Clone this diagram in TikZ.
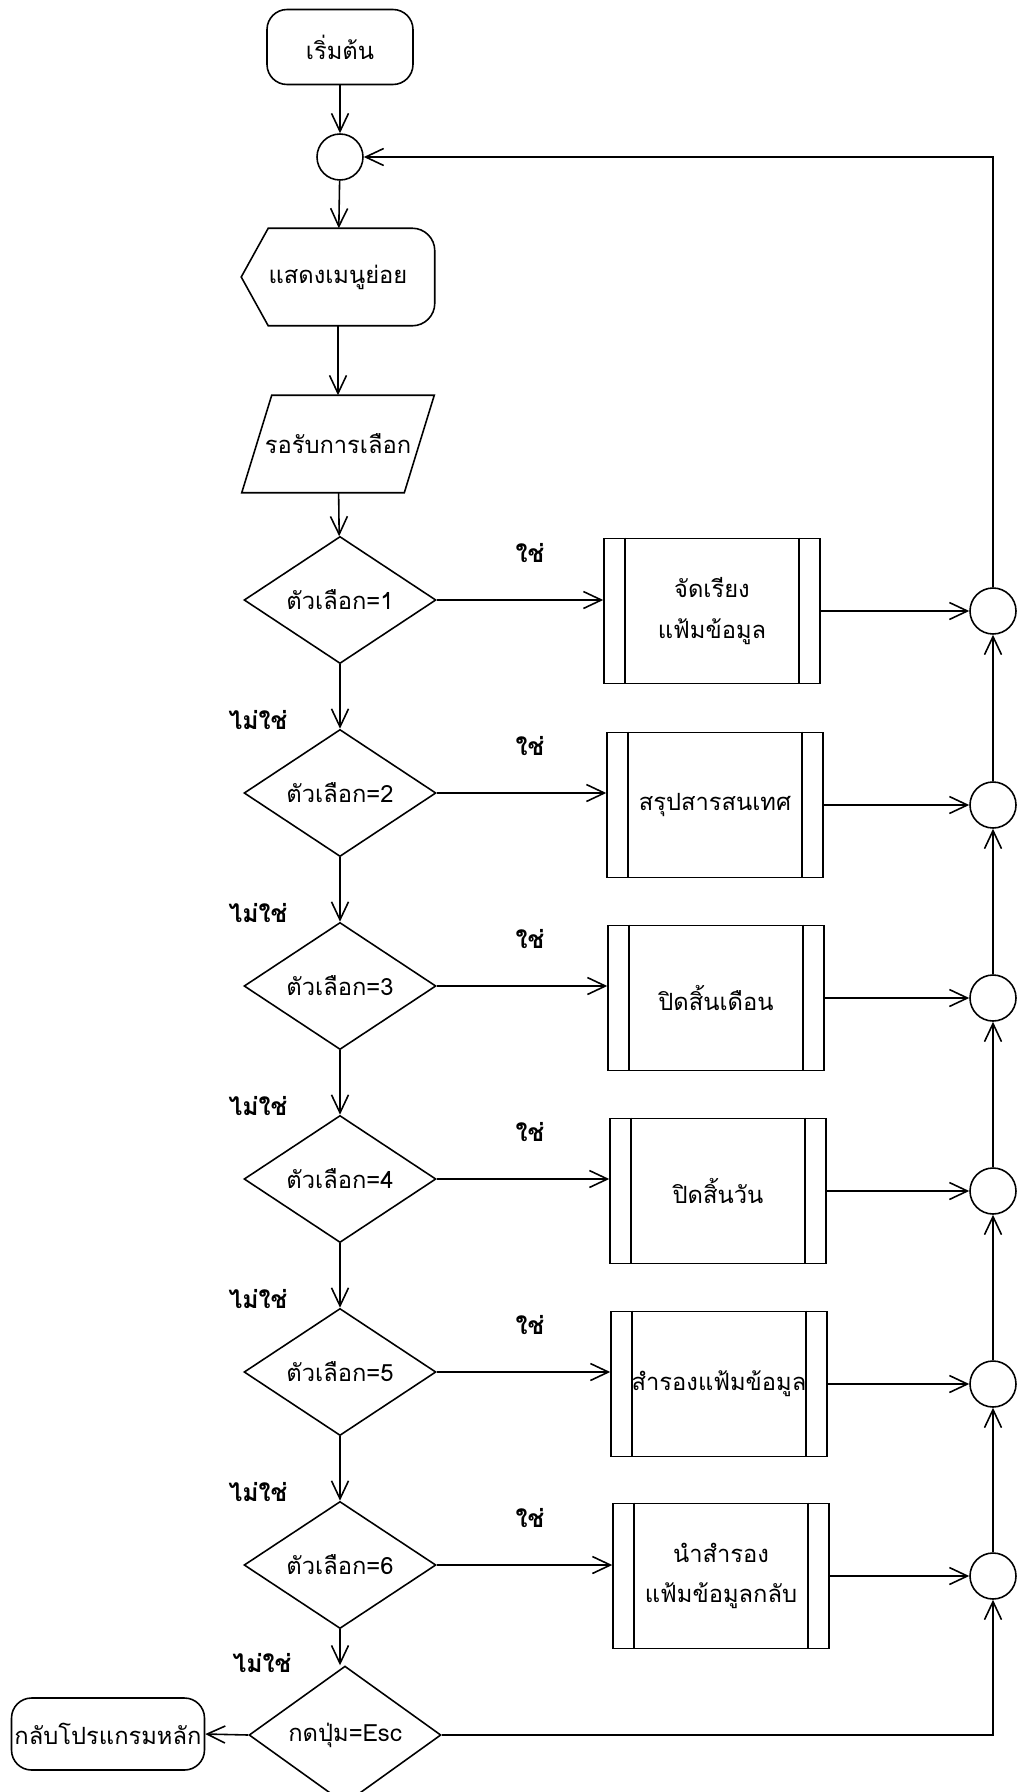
\documentclass[tikz,border=0pt]{standalone}
\usepackage{fontspec}
\setmainfont[Script=Thai]{Loma}
\usetikzlibrary{shapes.geometric,arrows.meta}

\begin{document}
\begin{tikzpicture}[
    x=0.02cm, y=-0.02cm,
    line width=0.9pt,
    >={Straight Barb[length=0.36cm,width=0.34cm]},
    terminal/.style={
        rectangle,
        rounded corners=0.4cm,
        minimum width=2.92cm,
        minimum height=1.5cm,
        draw,
        font=\fontsize{13.5}{16}\selectfont,
        align=center
    },
    joint/.style={
        circle,
        minimum size=0.92cm,
        inner sep=0pt,
        draw
    },
    outline/.style={
        rectangle,
        minimum width=3.84cm,
        minimum height=1.92cm,
        font=\fontsize{13.5}{16}\selectfont,
        align=center
    },
    decision/.style={
        diamond,
        minimum width=3.84cm,
        minimum height=2.4cm,
        inner sep=0pt,
        draw,
        font=\fontsize{13.5}{16}\selectfont,
        align=center
    },
    subroutine/.style={
        rectangle,
        minimum width=4.32cm,
        minimum height=2.9cm,
        draw,
        font=\fontsize{13.5}{23}\selectfont,
        align=center
    },
    answer/.style={
        font=\fontsize{14}{16}\selectfont\bfseries
    }
]
\useasboundingbox (0,0) rectangle (1020,1792);

\node[terminal] (start) at (340,47) {เริ่มต้น};
\node[joint] (loop) at (340,157) {};
\node[outline] (menu) at (338,277) {แสดงเมนูย่อย};
\node[outline, minimum width=3.82cm] (wait) at (338,444) {รอรับการเลือก};

\node[decision] (opt1) at (340,600) {ตัวเลือก=1};
\node[decision] (opt2) at (340,793) {ตัวเลือก=2};
\node[decision] (opt3) at (340,986) {ตัวเลือก=3};
\node[decision] (opt4) at (340,1179) {ตัวเลือก=4};
\node[decision] (opt5) at (340,1372) {ตัวเลือก=5};
\node[decision] (opt6) at (340,1565) {ตัวเลือก=6};
\node[decision] (esc) at (345,1735) {กดปุ่ม=Esc};

\node[terminal, minimum width=3.86cm, minimum height=1.44cm, inner sep=1pt] (back) at (108,1734) {กลับโปรแกรมหลัก};

\node[subroutine] (proc1) at (712,611) {จัดเรียง\\แฟ้มข้อมูล};
\node[subroutine] (proc2) at (715,805) {สรุปสารสนเทศ};
\node[subroutine] (proc3) at (716,998) {ปิดสิ้นเดือน};
\node[subroutine] (proc4) at (718,1191) {ปิดสิ้นวัน};
\node[subroutine] (proc5) at (719,1384) {สำรองแฟ้มข้อมูล};
\node[subroutine] (proc6) at (721,1576) {นำสำรอง\\แฟ้มข้อมูลกลับ};

\node[joint] (join1) at (993,611) {};
\node[joint] (join2) at (993,805) {};
\node[joint] (join3) at (993,998) {};
\node[joint] (join4) at (993,1191) {};
\node[joint] (join5) at (993,1384) {};
\node[joint] (join6) at (993,1576) {};

% Labels
\node[answer] (yes1) at (530,553) {ใช่};
\node[answer] (yes2) at (530,746) {ใช่};
\node[answer] (yes3) at (530,939) {ใช่};
\node[answer] (yes4) at (530,1132) {ใช่};
\node[answer] (yes5) at (530,1325) {ใช่};
\node[answer] (yes6) at (530,1518) {ใช่};
\node[answer] (no1) at (258,720) {ไม่ใช่};
\node[answer] (no2) at (258,913) {ไม่ใช่};
\node[answer] (no3) at (258,1106) {ไม่ใช่};
\node[answer] (no4) at (258,1299) {ไม่ใช่};
\node[answer] (no5) at (258,1492) {ไม่ใช่};
\node[answer] (no6) at (262,1663) {ไม่ใช่};

% Outlines
\draw (menu.north) [rounded corners=0.45cm] -- (menu.north east) -- (menu.south east) -- (menu.south)
    [sharp corners] -- ([xshift=0.54cm]menu.south west) -- (menu.west) -- ([xshift=0.54cm]menu.north west) -- (menu.north);
\draw ([xshift=0.6cm]wait.north west) -- (wait.north east) -- ([xshift=-0.6cm]wait.south east) -- (wait.south west) -- cycle;

\draw ([xshift=0.44cm]proc1.north west) -- ([xshift=0.44cm]proc1.south west) ([xshift=-0.44cm]proc1.north east) -- ([xshift=-0.44cm]proc1.south east);
\draw ([xshift=0.44cm]proc2.north west) -- ([xshift=0.44cm]proc2.south west) ([xshift=-0.44cm]proc2.north east) -- ([xshift=-0.44cm]proc2.south east);
\draw ([xshift=0.44cm]proc3.north west) -- ([xshift=0.44cm]proc3.south west) ([xshift=-0.44cm]proc3.north east) -- ([xshift=-0.44cm]proc3.south east);
\draw ([xshift=0.44cm]proc4.north west) -- ([xshift=0.44cm]proc4.south west) ([xshift=-0.44cm]proc4.north east) -- ([xshift=-0.44cm]proc4.south east);
\draw ([xshift=0.44cm]proc5.north west) -- ([xshift=0.44cm]proc5.south west) ([xshift=-0.44cm]proc5.north east) -- ([xshift=-0.44cm]proc5.south east);
\draw ([xshift=0.44cm]proc6.north west) -- ([xshift=0.44cm]proc6.south west) ([xshift=-0.44cm]proc6.north east) -- ([xshift=-0.44cm]proc6.south east);

% Arrows
\draw[->] (start) -- (loop);
\draw[->] (loop) -- (menu);
\draw[->] (menu) -- (wait);
\draw[->] (wait) -- (opt1);
\draw[->] (opt1) -- (opt2);
\draw[->] (opt2) -- (opt3);
\draw[->] (opt3) -- (opt4);
\draw[->] (opt4) -- (opt5);
\draw[->] (opt5) -- (opt6);
\draw[->] (opt6.south) -- (opt6.south |- esc.north);

\draw[->] (opt1.east) -- (opt1.east -| proc1.west);
\draw[->] (opt2.east) -- (opt2.east -| proc2.west);
\draw[->] (opt3.east) -- (opt3.east -| proc3.west);
\draw[->] (opt4.east) -- (opt4.east -| proc4.west);
\draw[->] (opt5.east) -- (opt5.east -| proc5.west);
\draw[->] (opt6.east) -- (opt6.east -| proc6.west);

\draw[->] (proc1) -- (join1);
\draw[->] (proc2) -- (join2);
\draw[->] (proc3) -- (join3);
\draw[->] (proc4) -- (join4);
\draw[->] (proc5) -- (join5);
\draw[->] (proc6) -- (join6);

% Back to the top
\draw[->] (join6) -- (join5);
\draw[->] (join5) -- (join4);
\draw[->] (join4) -- (join3);
\draw[->] (join3) -- (join2);
\draw[->] (join2) -- (join1);
\draw[->] (join1.north) |- (loop.east);
\draw[->] (esc.east) -| (join6.south);
\draw[->] (esc.west) -- (back.east);

\end{tikzpicture}
\end{document}
